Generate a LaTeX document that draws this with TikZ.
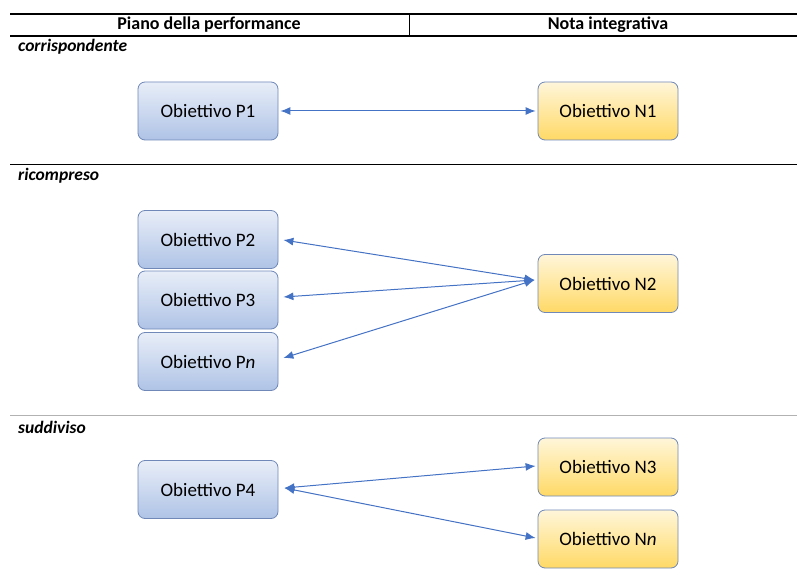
\documentclass[tikz,border=0pt]{standalone}
\usepackage{fontspec}
\setmainfont{Carlito}
\usetikzlibrary{arrows.meta}
\definecolor{arrowblue}{HTML}{4472C4}
\definecolor{pboxtop}{HTML}{E8EEF8}
\definecolor{pboxbot}{HTML}{AFC3E6}
\definecolor{nboxtop}{HTML}{FFF6DA}
\definecolor{nboxbot}{HTML}{FFD966}
\definecolor{boxline}{HTML}{6F88B8}
\tikzset{
  pbox/.style={draw=boxline, line width=0.8pt, rounded corners=7pt, top color=pboxtop, bottom color=pboxbot, minimum width=140pt, minimum height=58pt, inner sep=0pt, font=\fontsize{19}{22}\selectfont},
  nbox/.style={draw=boxline, line width=0.8pt, rounded corners=7pt, top color=nboxtop, bottom color=nboxbot, minimum width=140pt, minimum height=58pt, inner sep=0pt, font=\fontsize{19}{22}\selectfont},
  link/.style={draw=arrowblue, line width=1pt, {Latex[length=10pt,width=8pt]}-{Latex[length=10pt,width=8pt]}},
  sect/.style={anchor=west, font=\bfseries\itshape\fontsize{17.5}{20}\selectfont, inner sep=0pt},
  head/.style={font=\bfseries\fontsize{18}{21}\selectfont, inner sep=0pt}
}
\begin{document}
\begin{tikzpicture}[x=1pt,y=-1pt]
\useasboundingbox (0,0) rectangle (797,577);
% header
\draw[line width=1.4pt] (10,14) -- (797,14);
\draw[line width=1.4pt] (10,36) -- (797,36);
\draw[line width=1pt] (409,14) -- (409,36);
\node[head] (h1) at (209,25) {Piano della performance};
\node[head] (h2) at (608,25) {Nota integrativa};
% sections
\node[sect] (s1) at (18,47) {corrispondente};
\draw[line width=1.2pt] (10,164.5) -- (797,164.5);
\node[sect] (s2) at (18,176) {ricompreso};
\draw[line width=1.2pt, gray!60] (10,415.5) -- (797,415.5);
\node[sect] (s3) at (18,427) {suddiviso};
% boxes
\node[pbox] (p1) at (208,111) {Obiettivo P1};
\node[nbox] (n1) at (608,111) {Obiettivo N1};
\node[pbox] (p2) at (208,239.5) {Obiettivo P2};
\node[pbox] (p3) at (208,300) {Obiettivo P3};
\node[pbox] (pn) at (208,361.5) {Obiettivo P\textit{n}};
\node[nbox] (n2) at (608,283.5) {Obiettivo N2};
\node[pbox] (p4) at (208,489.5) {Obiettivo P4};
\node[nbox] (n3) at (608,467) {Obiettivo N3};
\node[nbox] (nn) at (608,539) {Obiettivo N\textit{n}};
% connectors
\coordinate (n2in) at ([xshift=-3pt,yshift=3.5pt]n2.west);
\coordinate (p4out) at ([xshift=6pt,yshift=1.5pt]p4.east);
\draw[link] ([xshift=2pt]p1.east) -- ([xshift=-2pt]n1.west);
\draw[link] ([xshift=5pt,yshift=-0.5pt]p2.east) -- (n2in);
\draw[link] ([xshift=5pt,yshift=3pt]p3.east) -- (n2in);
\draw[link] ([xshift=5pt,yshift=3.5pt]pn.east) -- (n2in);
\draw[link] (p4out) -- ([xshift=-2pt,yshift=1pt]n3.west);
\draw[link] (p4out) -- ([xshift=-2pt,yshift=1pt]nn.west);
\end{tikzpicture}
\end{document}
